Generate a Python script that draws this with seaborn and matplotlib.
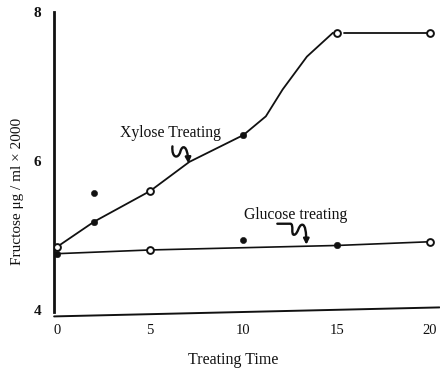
import matplotlib
matplotlib.use("Agg")
import matplotlib.pyplot as plt
import matplotlib.transforms as mtransforms
from matplotlib.path import Path
from matplotlib.patches import FancyArrowPatch
import seaborn as sns
import pandas as pd

sns.set_theme(style="white")
plt.rcParams['font.family'] = ['Liberation Serif', 'DejaVu Serif']

# Measured points
xyl_time = [0, 2, 5, 10, 15, 20]
xyl_value = [4.85, 5.19, 5.60, 6.35, 7.72, 7.72]
xyl_fill = ["open", "filled", "open", "filled", "open", "open"]

# hand-drawn xylose curve
xyl_curve_time = [0, 2, 5, 7.1, 10, 11.2, 12.1, 13.4, 14.8]
xyl_curve_value = [4.85, 5.19, 5.60, 5.99, 6.35, 6.60, 6.96, 7.40, 7.72]
xyl_flat_time = [15.4, 20]
xyl_flat_value = [7.72, 7.72]

glu_time = [0, 5, 15, 20]
glu_value = [4.76, 4.81, 4.87, 4.92]
glu_fill = ["filled", "open", "filled", "open"]

outlier_time = [2, 10]
outlier_value = [5.57, 4.95]

x_ticks = [0, 5, 10, 15, 20]
y_ticks = [4, 6, 8]

fig = plt.figure(figsize=(4.4, 3.7), dpi=100)
ax = fig.add_axes([0.123, 0.157, 0.867, 0.811])

ink = "#111111"
sns.lineplot(x=xyl_curve_time, y=xyl_curve_value, ax=ax, color=ink, lw=1.3, sort=False)
sns.lineplot(x=xyl_flat_time, y=xyl_flat_value, ax=ax, color=ink, lw=1.3, sort=False)
sns.lineplot(x=glu_time, y=glu_value, ax=ax, color=ink, lw=1.2, sort=False)

pts = pd.DataFrame({
    "t": xyl_time + glu_time,
    "v": xyl_value + glu_value,
    "f": xyl_fill + glu_fill,
})
filled = pts[pts.f == "filled"]
opened = pts[pts.f == "open"]
sns.scatterplot(data=filled, x="t", y="v", ax=ax, color=ink, s=22, edgecolor=ink, zorder=5)
sns.scatterplot(data=opened, x="t", y="v", ax=ax, color="white", s=24, edgecolor=ink,
                linewidth=1.4, zorder=5)
sns.scatterplot(x=outlier_time, y=outlier_value, ax=ax, color=ink, s=20, edgecolor=ink, zorder=5)

ax.set_xlim(-0.15, 20.3)
ax.set_ylim(3.98, 8.0)
ax.set_xticks(x_ticks)
ax.set_yticks(y_ticks)
ax.set_xticklabels([str(v) for v in x_ticks], fontsize=10.5)
ax.set_yticklabels([str(v) for v in y_ticks], fontsize=11, fontweight="bold")
ax.tick_params(axis="both", length=0, pad=9, colors=ink)

for s in ["top", "right", "bottom"]:
    ax.spines[s].set_visible(False)
ax.spines["left"].set_linewidth(2.0)
ax.spines["left"].set_color(ink)
# slightly slanted hand-drawn base line
ax.plot([0, 1.01], [-0.015, 0.015], transform=ax.transAxes, color=ink, lw=1.4,
        clip_on=False)

ax.set_xlabel("Treating Time", fontsize=11.5, color=ink)
ax.xaxis.set_label_coords(0.47, -0.135)
ax.set_ylabel("Fructose \u03bcg / ml \u00d7 2000", fontsize=11, color=ink)
ax.yaxis.set_label_coords(-0.08, 0.40)

ax.text(6.06, 6.38, "Xylose Treating", fontsize=11.3, ha="center", va="center", color=ink)
ax.text(12.8, 5.28, "Glucose treating", fontsize=11.3, ha="center", va="center", color=ink)


def squiggle(tip_x, tip_y, verts, codes):
    trans = mtransforms.Affine2D().scale(1, -1) + mtransforms.ScaledTranslation(
        tip_x, tip_y, ax.transData)
    arrow = FancyArrowPatch(path=Path(verts, codes), arrowstyle="-|>", mutation_scale=8,
                            color=ink, lw=1.7, transform=trans, zorder=6)
    ax.add_patch(arrow)


C4 = Path.CURVE4
squiggle(7.05, 5.97,
         [(-16, -17), (-17, -5), (-10, -4), (-8, -12), (-6, -19), (-1, -18), (0, 0)],
         [Path.MOVETO, C4, C4, C4, C4, C4, C4])
squiggle(13.37, 4.88,
         [(-29, -21), (-16, -21), (-12, -21), (-16, -9), (-12, -10),
          (-8, -11), (-8, -20), (-4, -20), (-1, -20), (0, -12), (0, 0)],
         [Path.MOVETO, Path.LINETO, C4, C4, C4, C4, C4, C4, C4, C4, C4])

fig.savefig("out.png", dpi=100, facecolor="white")
